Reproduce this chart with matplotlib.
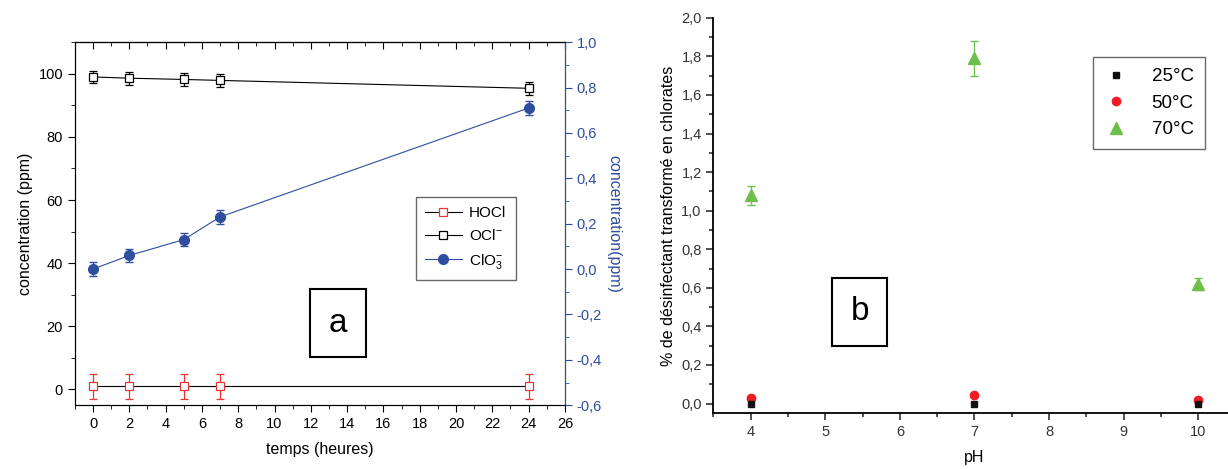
import matplotlib
matplotlib.use("Agg")
import matplotlib.pyplot as plt
from matplotlib.ticker import MultipleLocator, FuncFormatter, NullFormatter
from matplotlib.lines import Line2D

plt.rcParams['font.family'] = ['Liberation Sans', 'DejaVu Sans']
plt.rcParams['mathtext.default'] = 'regular'

# ---- Panel a data ----
temps = [0, 2, 5, 7, 24]
hocl = [1.0, 1.0, 1.0, 1.0, 1.0]
hocl_err = [4.0, 4.0, 4.0, 4.0, 4.0]
ocl = [99.0, 98.6, 98.2, 97.9, 95.4]
ocl_err = [2.0, 2.0, 2.0, 2.0, 2.0]
clo3 = [0.0, 0.06, 0.13, 0.23, 0.71]
clo3_err = [0.03, 0.03, 0.03, 0.03, 0.03]

# ---- Panel b data ----
ph = [4, 7, 10]
t25 = [0.0, 0.0, 0.0]
t50 = [0.03, 0.045, 0.02]
t70 = [1.08, 1.79, 0.62]
t70_err = [0.05, 0.09, 0.03]

RED = '#ee3333'
BLUE = '#2f4ea0'
GREEN = '#6dbf4a'

comma = FuncFormatter(lambda v, p: ('%.1f' % v).replace('.', ',').replace('-0,0', '0,0'))

fig = plt.figure(figsize=(12.28, 4.69), dpi=100)

# ===== Panel a =====
ax = fig.add_axes([0.061, 0.136, 0.399, 0.774])
ax.errorbar(temps, hocl, yerr=hocl_err, color='black', lw=0.8, ecolor=RED,
            elinewidth=0.9, capsize=3, marker='s', ms=6, mfc='white', mec=RED,
            mew=0.9, zorder=3)
ax.errorbar(temps, ocl, yerr=ocl_err, color='black', lw=0.8, ecolor='black',
            elinewidth=0.9, capsize=3, marker='s', ms=6, mfc='white', mec='black',
            mew=0.9, zorder=3)
ax.set_xlim(-1, 26)
ax.set_ylim(-5, 110)
ax.xaxis.set_major_locator(MultipleLocator(2))
ax.xaxis.set_minor_locator(MultipleLocator(1))
ax.yaxis.set_major_locator(MultipleLocator(20))
ax.yaxis.set_minor_locator(MultipleLocator(10))
ax.tick_params(axis='both', which='both', labelsize=10.5, direction='out')
ax.tick_params(which='major', length=5)
ax.tick_params(which='minor', length=3)
ax.set_xlabel('temps (heures)', fontsize=11.5, labelpad=8)
ax.set_ylabel('concentration (ppm)', fontsize=11.5)

top = ax.secondary_xaxis('top')
top.xaxis.set_major_locator(MultipleLocator(2))
top.xaxis.set_minor_locator(MultipleLocator(1))
top.xaxis.set_major_formatter(NullFormatter())
top.tick_params(axis='x', which='both', direction='in')
top.tick_params(which='major', length=5)
top.tick_params(which='minor', length=3)

ax2 = ax.twinx()
ax2.errorbar(temps, clo3, yerr=clo3_err, color=BLUE, lw=0.8, ecolor=BLUE,
             elinewidth=0.9, capsize=3, marker='o', ms=7, mfc=BLUE, mec=BLUE,
             zorder=3)
ax2.set_ylim(-0.6, 1.0)
ax2.yaxis.set_major_locator(MultipleLocator(0.2))
ax2.yaxis.set_minor_locator(MultipleLocator(0.1))
ax2.yaxis.set_major_formatter(comma)
ax2.tick_params(axis='y', which='both', colors=BLUE, labelsize=10.5, direction='out')
ax2.tick_params(which='major', length=5)
ax2.tick_params(which='minor', length=3)
ax2.spines['right'].set_color(BLUE)
ax2.set_ylabel('concentration(ppm)', color=BLUE, fontsize=11.5, rotation=270, labelpad=14)

handles_a = [
    Line2D([], [], color='black', lw=0.8, marker='s', ms=6, mfc='white', mec=RED, mew=0.9),
    Line2D([], [], color='black', lw=0.8, marker='s', ms=6, mfc='white', mec='black', mew=0.9),
    Line2D([], [], color=BLUE, lw=0.8, marker='o', ms=7, mfc=BLUE, mec=BLUE),
]
labels_a = ['HOCl', 'OCl$^{-}$', 'ClO$_3^{-}$']
leg = ax2.legend(handles_a, labels_a, loc='upper left', bbox_to_anchor=(0.68, 0.595),
                 fontsize=11, frameon=True, fancybox=False, edgecolor='#444444',
                 handlelength=2.4, borderpad=0.6, labelspacing=0.55, handletextpad=0.5)
leg.get_frame().set_linewidth(1.0)

ax2.text(0.537, 0.226, 'a', transform=ax2.transAxes, fontsize=24, ha='center', va='center',
         bbox=dict(boxstyle='square,pad=0.55', fc='white', ec='black', lw=1.5))

# ===== Panel b =====
bx = fig.add_axes([0.581, 0.119, 0.425, 0.843])
bx.errorbar(ph, t70, yerr=t70_err, fmt='none', ecolor=GREEN,
            elinewidth=0.9, capsize=3, zorder=3)
p70, = bx.plot(ph, t70, '^', color=GREEN, ms=8, zorder=3)
p50, = bx.plot(ph, t50, 'o', color='#ee1c24', ms=6, zorder=4)
p25, = bx.plot(ph, t25, 's', color='#111111', ms=5, zorder=5)
bx.set_xlim(3.5, 10.5)
bx.set_ylim(-0.05, 2.0)
bx.xaxis.set_major_locator(MultipleLocator(1))
bx.xaxis.set_minor_locator(MultipleLocator(0.5))
bx.yaxis.set_major_locator(MultipleLocator(0.2))
bx.yaxis.set_minor_locator(MultipleLocator(0.1))
bx.yaxis.set_major_formatter(comma)
bx.spines['top'].set_visible(False)
bx.spines['right'].set_visible(False)
bx.spines['left'].set_linewidth(1.3)
bx.spines['bottom'].set_linewidth(1.3)
bx.tick_params(axis='both', which='both', labelsize=10.5, direction='out', colors='#333333')
bx.tick_params(which='major', length=5, width=1.2)
bx.tick_params(which='minor', length=3, width=1.2)
bx.set_xlabel('pH', fontsize=11.5, labelpad=8)
bx.set_ylabel('% de désinfectant transformé en chlorates', fontsize=11.5)
legb = bx.legend([p25, p50, p70], ['25°C', '50°C', '70°C'], loc='upper left',
                 bbox_to_anchor=(0.71, 0.925), fontsize=13.5, frameon=True, fancybox=False,
                 edgecolor='#444444', handlelength=1.2, handletextpad=1.3, borderpad=0.6,
                 labelspacing=0.5)
legb.get_frame().set_linewidth(1.0)

bx.text(0.28, 0.256, 'b', transform=bx.transAxes, fontsize=24, ha='center', va='center',
        bbox=dict(boxstyle='square,pad=0.55', fc='white', ec='black', lw=1.5))

fig.savefig('out.png', dpi=100)
